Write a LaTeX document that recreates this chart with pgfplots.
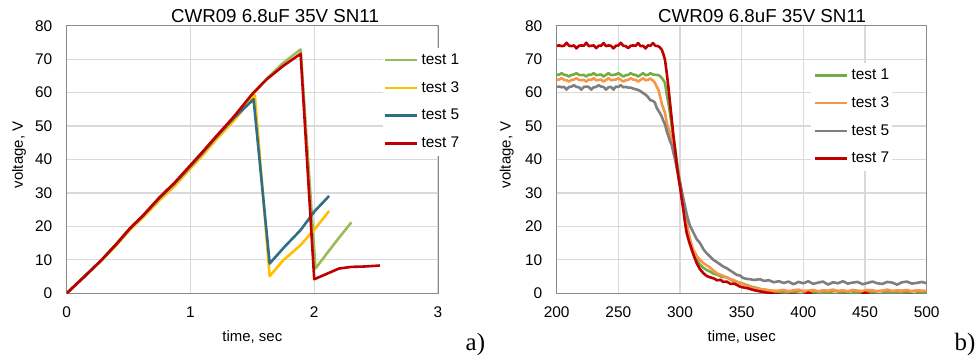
\documentclass[border=0pt]{standalone}
\usepackage{fontspec}
\setmainfont{Liberation Sans}
\newfontfamily\timesfont{Liberation Serif}
\usepackage{pgfplots}
\pgfplotsset{compat=1.18}
\definecolor{lg}{HTML}{9BBB59}
\definecolor{ly}{HTML}{FFC000}
\definecolor{lt}{HTML}{2F6F86}
\definecolor{rr}{HTML}{C00000}
\definecolor{rg}{HTML}{70AD47}
\definecolor{ro}{HTML}{F79646}
\definecolor{rgy}{HTML}{7F7F7F}
\definecolor{frm}{HTML}{898989}
\definecolor{grd}{HTML}{D9D9D9}
\pgfplotsset{base/.style={
  scale only axis, height=267.6bp,
  anchor=south west,
  axis line style={draw=frm, line width=1bp},
  grid=major, major grid style={draw=grd, line width=1.2bp},
  major tick length=0pt,
  /pgf/number format/assume math mode=true,
  tick label style={font=\fontsize{15.5}{18}\selectfont, inner sep=0pt},
  xticklabel shift=13.4bp, yticklabel shift=14.2bp,
  ymin=0, ymax=80, ytick={0,10,...,80},
  label style={font=\fontsize{15}{18}\selectfont},
  xlabel style={anchor=base},
  ylabel style={anchor=center},
  title style={font=\fontsize{18.8}{22}\selectfont, fill=white, inner xsep=5bp, inner ysep=1bp, anchor=base},
  title={CWR09 6.8uF 35V SN11},
  every axis plot/.append style={line width=2.6bp, line join=round, mark=none},
  legend cell align=left,
  legend image code/.code={\draw[##1, line width=2.5bp] (0bp,0bp) -- (32.5bp,0bp);},
  legend style={draw=none, fill=white, anchor=north west, inner xsep=1bp, inner ysep=5bp,
     font=\fontsize{15.5}{18}\selectfont, row sep=13bp, column sep=3bp,
     nodes={inner sep=0pt, text height=11.5bp, text depth=3.3bp}},
}}
\begin{document}
\begin{tikzpicture}
\path[use as bounding box] (0,0) rectangle (976bp,356bp);
\begin{axis}[base, at={(66.7bp,62.7bp)}, width=371.3bp,
  xmin=0, xmax=3, xtick={0,1,2,3},
  title style={at={(axis description cs:0.561,0.9903)}},
  legend style={at={(axis description cs:0.850,0.9185)}},
  xlabel={time, sec}, ylabel={voltage, V},
  xlabel style={at={(axis description cs:0.5,-0.1809)}},
  ylabel style={at={(axis description cs:-0.1285,0.517)}}]
\addplot[color=lg] coordinates {(0,0) (0.14,4.9) (0.28,9.8) (0.4,14.6) (0.51,19.3) (0.62,23.3) (0.75,28.5) (0.87,32.8) (1.0,38.1) (1.1,42.2) (1.2,46.4) (1.35,52.4) (1.5,59.6) (1.62,64.3) (1.75,68.9) (1.89,72.9) (2.01,7.4) (2.1,11.8) (2.2,16.6) (2.3,21.2)};
\addlegendentry{test 1}
\addplot[color=ly] coordinates {(0,0) (0.14,4.9) (0.28,9.8) (0.4,14.3) (0.51,18.9) (0.62,22.8) (0.75,27.8) (0.87,32.0) (1.0,37.3) (1.1,41.3) (1.2,45.6) (1.35,51.6) (1.52,59.2) (1.64,5.1) (1.75,9.9) (1.89,14.4) (2.02,19.9) (2.12,24.6)};
\addlegendentry{test 3}
\addplot[color=lt] coordinates {(0,0) (0.14,4.9) (0.28,9.9) (0.4,14.6) (0.51,19.3) (0.62,23.3) (0.75,28.5) (0.87,32.8) (1.0,38.0) (1.1,42.1) (1.2,46.4) (1.35,52.4) (1.51,58.0) (1.64,8.9) (1.76,13.9) (1.89,18.9) (2.0,24.4) (2.12,29.1)};
\addlegendentry{test 5}
\addplot[color=rr] coordinates {(0,0) (0.14,4.9) (0.28,9.9) (0.4,14.7) (0.51,19.4) (0.62,23.4) (0.75,28.7) (0.87,33.0) (1.0,38.3) (1.1,42.4) (1.2,46.6) (1.35,52.8) (1.5,59.6) (1.62,64.1) (1.75,68.0) (1.89,71.6) (2.0,4.2) (2.1,5.8) (2.2,7.4) (2.3,7.9) (2.4,8.0) (2.53,8.3)};
\addlegendentry{test 7}
\end{axis}
\begin{axis}[base, at={(556.7bp,62.7bp)}, width=370bp,
  xmin=200, xmax=500, xtick={200,250,...,500},
  title style={at={(axis description cs:0.555,0.9903)}},
  legend style={at={(axis description cs:0.6854,0.8617)}, inner xsep=3bp},
  xlabel={time, usec}, ylabel={voltage, V},
  xlabel style={at={(axis description cs:0.5,-0.1809)}},
  ylabel style={at={(axis description cs:-0.135,0.517)}}]
\addplot[color=rg] coordinates {(200,65.4)(202,65.3)(204,65.8)(206,65.3)(208,65.2)(210,64.8)(212,65.3)(214,65.4)(216,65.8)(218,65.3)(220,65.2)(222,65.3)(224,64.8)(226,65.4)(228,65.3)(230,65.8)(232,65.2)(234,65.3)(236,65.4)(238,64.8)(240,65.3)(242,65.8)(244,65.2)(246,65.3)(248,65.4)(250,65.8)(252,65.3)(254,64.8)(256,65.2)(258,65.3)(260,65.8)(262,65.4)(264,65.3)(266,64.8)(268,65.3)(270,65.8)(272,65.2)(274,65.3)(276,65.8)(278,65.4)(280,65.3)(282,65.3)(284,64.9)(286,64.0)(287.8,62.9)(289,60.0)(290.5,56.9)(292,53.5)(293.3,49.9)(295,45.5)(296.5,42.0)(298,38.0)(300,33.0)(302,27.5)(304,22.8)(306,18.8)(308,15.8)(310,13.3)(313.5,10.2)(316,8.6)(319,7.6)(321.5,7.0)(324.3,6.5)(327,5.9)(330,5.6)(334,4.9)(337.8,4.8)(342,3.9)(346,3.4)(350,3.0)(354,2.5)(358,2.0)(362,1.6)(366,1.2)(370,1.0)(374,0.7)(378,0.5)(382,0.4)(386,0.6)(390,0.3)(394,0.5)(398,0.7)(402,0.3)(406,0.5)(410,0.4)(414,0.6)(418,0.2)(422,0.5)(426,0.7)(430,0.4)(434,0.3)(438,0.6)(442,0.5)(446,0.4)(450,0.6)(454,0.3)(458,0.5)(462,0.7)(466,0.4)(470,0.5)(474,0.3)(478,0.6)(482,0.4)(486,0.5)(490,0.7)(494,0.3)(500,0.5)};
\addlegendentry{test 1}
\addplot[color=ro] coordinates {(200,63.8)(202,63.9)(204,64.3)(206,63.8)(208,63.7)(210,63.3)(212,63.8)(214,63.9)(216,64.3)(218,63.8)(220,63.7)(222,63.8)(224,63.3)(226,63.9)(228,63.8)(230,64.3)(232,63.7)(234,63.8)(236,63.9)(238,63.3)(240,63.8)(242,64.3)(244,63.7)(246,63.8)(248,63.9)(250,64.3)(252,63.8)(254,63.3)(256,63.7)(258,63.8)(260,64.3)(262,63.9)(264,63.8)(266,63.3)(268,63.8)(270,64.3)(272,63.7)(274,63.8)(276,64.2)(278,63.6)(279.5,63.0)(281,61.8)(282.4,60.9)(284,58.5)(285.5,56.3)(287.8,53.9)(289.5,50.5)(291.9,47.9)(294,44.5)(296,40.9)(298,36.5)(300,32.0)(302,27.5)(304,23.5)(306.7,18.5)(308.5,15.5)(310.8,13.0)(314,10.9)(318.9,9.0)(324,7.8)(329.7,6.0)(335,5.2)(340,4.4)(343.2,4.0)(348,3.1)(352,2.6)(356.8,2.0)(362,1.4)(366,1.2)(370.3,1.0)(375,0.8)(380,0.8)(384,1.0)(388,0.6)(392,0.9)(396,1.1)(400,0.7)(404,0.8)(408,1.0)(412,0.6)(416,0.9)(420,0.8)(424,1.1)(428,0.7)(432,0.9)(436,0.6)(440,1.0)(444,0.8)(448,0.7)(452,1.0)(456,0.9)(460,0.6)(464,0.8)(468,1.1)(472,0.7)(476,0.9)(480,0.8)(484,1.0)(488,0.6)(492,0.9)(496,0.8)(500,0.7)};
\addlegendentry{test 3}
\addplot[color=rgy] coordinates {(200,61.7)(202,61.8)(204,61.6)(206,61.7)(208,60.9)(210,61.7)(212,61.8)(214,62.2)(216,61.7)(218,61.6)(220,60.9)(222,61.7)(224,61.8)(226,61.7)(228,60.9)(230,61.6)(232,61.7)(234,62.2)(236,61.8)(238,61.7)(240,60.9)(242,61.6)(244,61.7)(246,60.9)(248,61.8)(250,61.7)(252,62.2)(254,61.6)(256,61.7)(258,61.5)(260,61.5)(262,61.2)(264,61.0)(266,60.8)(268,60.4)(270.3,59.8)(272,59.4)(274,58.7)(275.7,57.8)(278,57.5)(279.7,57.0)(281,55.5)(283,54.3)(285,53.0)(286.5,51.5)(287.8,50.5)(289.2,48.5)(290.5,47.0)(291.9,45.5)(293.3,44.3)(294.6,42.0)(296,40.0)(297.3,37.5)(298.6,35.5)(300,33.2)(302,29.5)(304,26.0)(306,22.8)(308,20.2)(310,18.8)(313.5,16.2)(316.2,15.0)(318.9,13.2)(321.5,12.0)(324.3,11.0)(327,10.0)(330,9.3)(335,8.0)(337.8,7.5)(342,6.5)(346,5.5)(348.6,5.3)(351,4.6)(354,4.3)(356.8,4.2)(360,4.0)(364.9,4.2)(368,3.7)(372,3.9)(376,3.3)(380,3.6)(384,3.1)(388,3.5)(392,2.7)(396,3.4)(400,3.0)(404,3.6)(408,2.8)(412,3.2)(416,3.5)(420,2.6)(424,3.3)(428,3.0)(432,3.6)(436,2.9)(440,3.2)(444,3.4)(448,2.7)(452,3.1)(456,3.5)(460,3.0)(464,2.8)(468,3.4)(472,3.2)(476,2.6)(480,3.3)(484,3.5)(488,2.9)(492,3.1)(496,3.4)(500,3.0)};
\addlegendentry{test 5}
\addplot[color=rr] coordinates {(200,74.0)(202,74.1)(204,73.9)(206,74.0)(208,74.9)(210,74.0)(212,73.9)(214,74.1)(216,73.2)(218,74.0)(220,74.1)(222,74.0)(224,74.9)(226,73.9)(228,74.0)(230,74.1)(232,73.3)(234,74.0)(236,74.0)(238,74.8)(240,73.9)(242,74.1)(244,74.0)(246,73.2)(248,74.0)(250,74.1)(252,74.9)(254,74.0)(256,73.9)(258,73.3)(260,74.0)(262,74.1)(264,74.0)(266,74.8)(268,73.9)(270,74.0)(272,73.2)(274,74.1)(276,74.0)(278,74.8)(280,74.0)(282,73.9)(283.5,73.6)(285.2,72.8)(286.5,71.5)(287.8,69.8)(289,66.5)(290.5,61.9)(292,56.5)(293.3,51.9)(294.6,47.3)(296,42.9)(297.3,38.5)(298.6,34.9)(300,31.8)(301.3,28.3)(302.7,24.9)(304,21.2)(305.4,18.0)(307.5,15.2)(309.5,13.0)(311.5,10.9)(313.5,9.0)(316,7.3)(318.9,6.0)(322,5.1)(325,4.7)(327,4.5)(330,3.9)(333,4.0)(335,3.4)(337.8,3.5)(341,2.8)(344,2.9)(348.6,2.0)(352,1.7)(355,1.5)(359.4,1.0)(363,0.7)(366,0.5)(370.3,0.2)(374,0.0)(378,-0.3)(384,-0.5)(392,-0.4)(400,-0.6)(404,0.2)(408,-0.5)(420,-0.6)(432,-0.5)(446,-0.6)(450,0.2)(454,-0.5)(470,-0.6)(485,-0.5)(500,-0.6)};
\addlegendentry{test 7}
\end{axis}
\node[anchor=base west, inner sep=0pt, font=\timesfont\fontsize{25}{28}\selectfont] at (465.5bp,5.5bp) {a)};
\node[anchor=base west, inner sep=0pt, font=\timesfont\fontsize{25}{28}\selectfont] at (954.5bp,5.5bp) {b)};
\end{tikzpicture}
\end{document}
